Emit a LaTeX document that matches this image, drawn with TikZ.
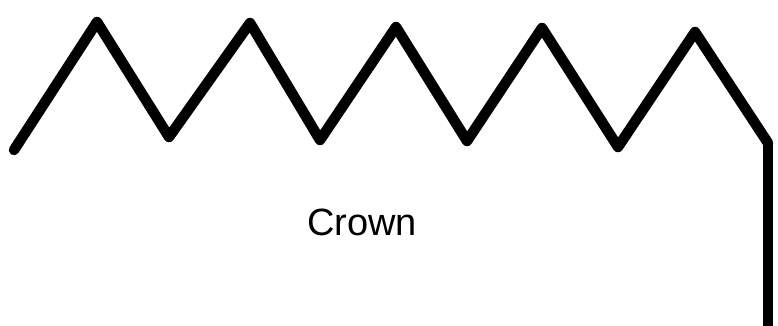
\documentclass[tikz,border=0pt]{standalone}
\usepackage{fontspec}
\setmainfont{Liberation Sans}
\begin{document}
\begin{tikzpicture}[x=1pt,y=-1pt,
  crownline/.style={line width=10.5pt,line join=round,line cap=round,black},
  lbl/.style={font=\fontsize{38}{44}\selectfont,inner sep=0pt}]
\useasboundingbox (0,0) rectangle (778,325);
\coordinate (s) at (14,150);
\coordinate (p1) at (97,22);
\coordinate (v1) at (169,137);
\coordinate (p2) at (250,23);
\coordinate (v2) at (320,140);
\coordinate (p3) at (396,27);
\coordinate (v3) at (467,141);
\coordinate (p4) at (542,28);
\coordinate (v4) at (618,147);
\coordinate (p5) at (695,32);
\coordinate (c) at (768,143);
\coordinate (e) at (768,330);
\draw[crownline] (s) -- (p1) -- (v1) -- (p2) -- (v2) -- (p3) -- (v3) -- (p4) -- (v4) -- (p5) -- (c);
\draw[line width=9.5pt,line join=miter] (c) -- (e);
\node[lbl] (t) at (362,222) {Crown};
\end{tikzpicture}
\end{document}
